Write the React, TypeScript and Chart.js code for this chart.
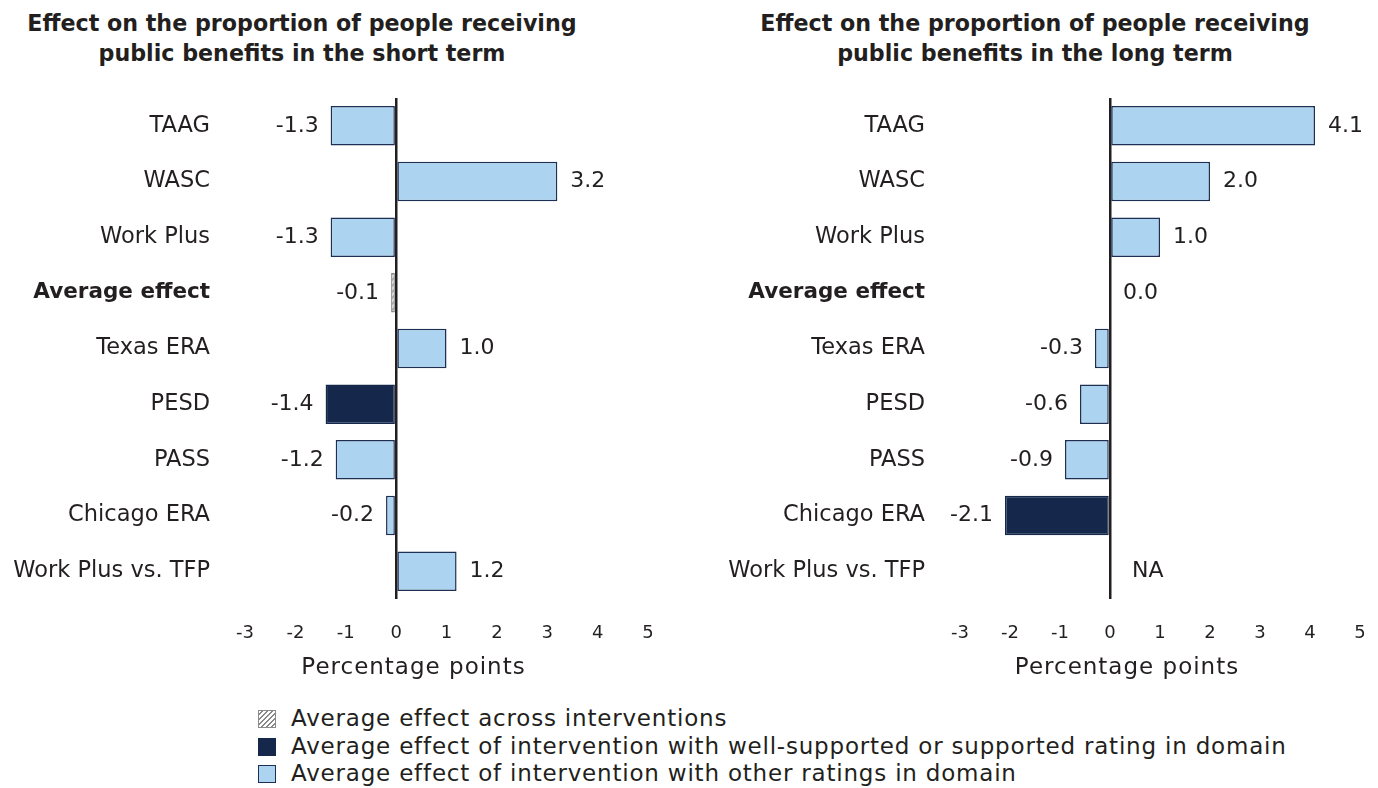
import React, { useEffect, useRef } from "react";
import { Chart, registerables } from "chart.js";

Chart.register(...registerables);

const categories = [
  "TAAG",
  "WASC",
  "Work Plus",
  "Average effect",
  "Texas ERA",
  "PESD",
  "PASS",
  "Chicago ERA",
  "Work Plus vs. TFP",
];
const shortTermValues: (number | null)[] = [-1.3, 3.2, -1.3, -0.1, 1.0, -1.4, -1.2, -0.2, 1.2];
const longTermValues: (number | null)[] = [4.1, 2.0, 1.0, 0.0, -0.3, -0.6, -0.9, -2.1, null];
const shortTermRatings = ["other", "other", "other", "average", "other", "supported", "other", "other", "other"];
const longTermRatings = ["other", "other", "other", "average", "other", "other", "other", "supported", "other"];
const xMin = -3;
const xMax = 5;
const shortTitle = ["Effect on the proportion of people receiving", "public benefits in the short term"];
const longTitle = ["Effect on the proportion of people receiving", "public benefits in the long term"];
const axisTitle = "Percentage points";
const legendLabels = [
  "Average effect across interventions",
  "Average effect of intervention with well-supported or supported rating in domain",
  "Average effect of intervention with other ratings in domain",
];

const FONT = "'DejaVu Sans', sans-serif";
const TEXT = "#231f20";
const LIGHT = "#acd3ef";
const LIGHT_BORDER = "#1d2f52";
const NAVY = "#15284c";
const GRAY = "#8c8c8c";

function makeHatch(): CanvasPattern | string {
  const c = document.createElement("canvas");
  c.width = 6;
  c.height = 6;
  const g = c.getContext("2d");
  if (!g) return "#ddd";
  g.fillStyle = "#ffffff";
  g.fillRect(0, 0, 6, 6);
  g.strokeStyle = "#888888";
  g.lineWidth = 1.6;
  g.beginPath();
  g.moveTo(0, 6);
  g.lineTo(6, 0);
  g.moveTo(-3, 3);
  g.lineTo(3, -3);
  g.moveTo(3, 9);
  g.lineTo(9, 3);
  g.stroke();
  const p = g.createPattern(c, "repeat");
  return p || "#ddd";
}

const valueLabels = {
  id: "valueLabels",
  afterDatasetsDraw(chart: any) {
    const ctx = chart.ctx;
    const xs = chart.scales.x;
    const ys = chart.scales.y;
    const data = chart.data.datasets[0].data as (number | null)[];
    ctx.save();
    ctx.font = `22px ${FONT}`;
    ctx.fillStyle = TEXT;
    ctx.textBaseline = "middle";
    data.forEach((v, i) => {
      const y = ys.getPixelForValue(i);
      if (v === null || v === undefined) {
        ctx.textAlign = "left";
        ctx.fillText("NA", xs.getPixelForValue(0) + 22, y);
      } else if (v < 0) {
        ctx.textAlign = "right";
        ctx.fillText(v.toFixed(1), xs.getPixelForValue(v) - 12, y);
      } else {
        ctx.textAlign = "left";
        ctx.fillText(v.toFixed(1), xs.getPixelForValue(v) + 13, y);
      }
    });
    ctx.restore();
  },
};

const axisTitlePlugin = {
  id: "axisTitlePlugin",
  afterDraw(chart: any) {
    const ctx = chart.ctx;
    const a = chart.chartArea;
    ctx.save();
    ctx.font = `23px ${FONT}`;
    try {
      (ctx as any).letterSpacing = "1px";
    } catch (e) {}
    ctx.fillStyle = TEXT;
    ctx.textAlign = "center";
    ctx.textBaseline = "middle";
    ctx.fillText(axisTitle, (a.left + a.right) / 2 - 33, 668);
    ctx.restore();
  },
};

function BarPanel(props: {
  values: (number | null)[];
  ratings: string[];
  yWidth: number;
  padRight: number;
  width: number;
}) {
  const ref = useRef<HTMLCanvasElement>(null);
  useEffect(() => {
    if (!ref.current) return;
    const hatch = makeHatch();
    const fill = props.ratings.map((r) => (r === "average" ? hatch : r === "supported" ? NAVY : LIGHT));
    const border = props.ratings.map((r) => (r === "average" ? GRAY : r === "supported" ? NAVY : LIGHT_BORDER));
    const chart = new Chart(ref.current, {
      type: "bar",
      data: {
        labels: categories,
        datasets: [
          {
            data: props.values as any,
            backgroundColor: fill as any,
            borderColor: border,
            borderWidth: 1.5,
            borderSkipped: false,
            barPercentage: 0.71,
            categoryPercentage: 1,
          },
        ],
      },
      options: {
        indexAxis: "y",
        animation: false,
        responsive: false,
        maintainAspectRatio: false,
        layout: { padding: { top: 98, right: props.padRight, bottom: 0, left: 0 } },
        plugins: { legend: { display: false }, tooltip: { enabled: false }, title: { display: false } },
        scales: {
          x: {
            type: "linear",
            min: xMin,
            max: xMax,
            z: 1,
            border: { display: false },
            grid: {
              drawTicks: true,
              tickLength: 24,
              tickColor: "rgba(0,0,0,0)",
              color: (c: any) => (c.tick && c.tick.value === 0 ? "#231f20" : "rgba(0,0,0,0)"),
              lineWidth: 2.5,
            },
            ticks: {
              stepSize: 1,
              padding: 0,
              color: TEXT,
              font: { family: FONT, size: 18 },
            },
            afterFit: (s: any) => {
              s.height = 101;
            },
          },
          y: {
            type: "category",
            border: { display: false },
            grid: { display: false, drawTicks: false },
            ticks: {
              padding: 35,
              color: TEXT,
              autoSkip: false,
              font: (c: any) => ({
                family: FONT,
                size: c.index === 3 ? 21.5 : 22.5,
                weight: c.index === 3 ? "bold" : "normal",
              }),
            },
            afterFit: (s: any) => {
              s.width = props.yWidth;
            },
          },
        },
      },
      plugins: [valueLabels, axisTitlePlugin],
    });
    return () => chart.destroy();
  }, []);
  return <canvas ref={ref} width={props.width} height={700} style={{ display: "block" }} />;
}

const titleStyle: React.CSSProperties = {
  position: "absolute",
  top: 8,
  width: 700,
  textAlign: "center",
  fontFamily: FONT,
  fontWeight: "bold",
  fontSize: 22.2,
  lineHeight: "30px",
  color: TEXT,
  whiteSpace: "nowrap",
};

const swatchBase: React.CSSProperties = {
  position: "absolute",
  left: 0,
  width: 18,
  height: 18,
  boxSizing: "border-box",
};

export default function App() {
  return (
    <div
      style={{
        position: "absolute",
        left: 0,
        top: 0,
        width: 1378,
        height: 788,
        background: "#ffffff",
        overflow: "hidden",
      }}
    >
      <div style={{ ...titleStyle, left: 302 - 350 }}>
        {shortTitle[0]}
        <br />
        {shortTitle[1]}
      </div>
      <div style={{ ...titleStyle, left: 1035 - 350 }}>
        {longTitle[0]}
        <br />
        {longTitle[1]}
      </div>
      <div style={{ position: "absolute", left: 0, top: 0 }}>
        <BarPanel values={shortTermValues} ratings={shortTermRatings} yWidth={245} padRight={42} width={690} />
      </div>
      <div style={{ position: "absolute", left: 690, top: 0 }}>
        <BarPanel values={longTermValues} ratings={longTermRatings} yWidth={270} padRight={18} width={688} />
      </div>
      <div
        style={{
          position: "absolute",
          left: 258,
          top: 705,
          fontFamily: FONT,
          fontSize: 23,
          letterSpacing: "0.8px",
          color: TEXT,
          lineHeight: "27.5px",
        }}
      >
        {legendLabels.map((t, i) => (
          <div key={i} style={{ position: "relative", paddingLeft: 33, whiteSpace: "nowrap" }}>
            <span
              style={{
                ...swatchBase,
                top: 5,
                background:
                  i === 0
                    ? "repeating-linear-gradient(-45deg, #ffffff 0px, #ffffff 2px, #888888 2px, #888888 3.5px)"
                    : i === 1
                    ? NAVY
                    : LIGHT,
                border: `1.5px solid ${i === 0 ? GRAY : i === 1 ? NAVY : LIGHT_BORDER}`,
              }}
            />
            {t}
          </div>
        ))}
      </div>
    </div>
  );
}
